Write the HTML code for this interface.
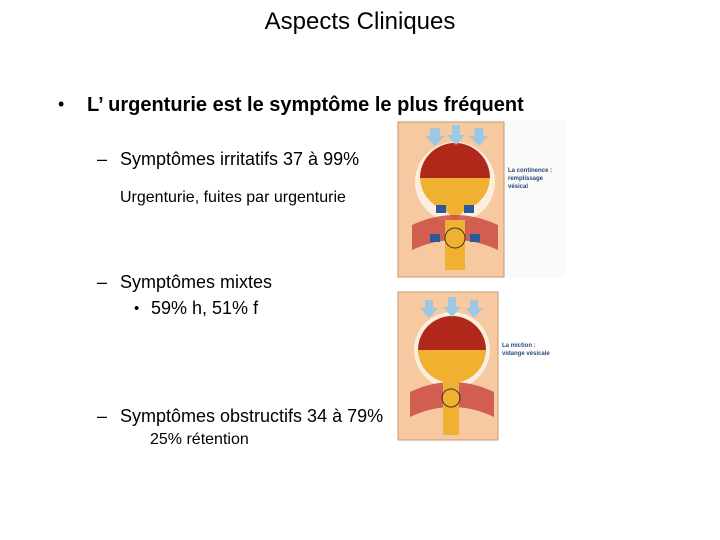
<!DOCTYPE html>
<html><head><meta charset="utf-8"><style>
body{margin:0;width:720px;height:540px;background:#fff;position:relative;font-family:"Liberation Sans",sans-serif;color:#000;overflow:hidden}
.t{position:absolute;white-space:nowrap}
</style></head><body>
<div class="t" style="left:0;width:720px;text-align:center;top:8px;font-size:24px">Aspects Cliniques</div>
<div class="t" style="left:58px;top:94px;font-size:18px">•</div>
<div class="t" style="left:87px;top:94px;font-size:20px;font-weight:bold">L’ urgenturie est le symptôme le plus fréquent</div>
<div class="t" style="left:97px;top:149px;font-size:18px">–</div>
<div class="t" style="left:120px;top:149px;font-size:18px">Symptômes irritatifs 37 à 99%</div>
<div class="t" style="left:120px;top:189px;font-size:16px">Urgenturie, fuites par urgenturie</div>
<div class="t" style="left:97px;top:272px;font-size:18px">–</div>
<div class="t" style="left:120px;top:272px;font-size:18px">Symptômes mixtes</div>
<div class="t" style="left:134px;top:300px;font-size:15px">•</div>
<div class="t" style="left:151px;top:298px;font-size:18px">59% h, 51% f</div>
<div class="t" style="left:97px;top:406px;font-size:18px">–</div>
<div class="t" style="left:120px;top:406px;font-size:18px">Symptômes obstructifs 34 à 79%</div>
<div class="t" style="left:150px;top:431px;font-size:16px">25% rétention</div>

<svg style="position:absolute;left:0;top:0" width="720" height="540">
<rect x="396" y="120" width="169" height="158" fill="#fafafa"/>
<rect x="398" y="122" width="106" height="155" fill="#f6c9a0" stroke="#c89a70"/>
<circle cx="455" cy="182" r="40" fill="#fbeede"/>
<path d="M420 178 a35 35 0 0 1 70 0 z" fill="#b0281a"/>
<path d="M420 178 h70 a35 35 0 0 1 -25 32 l-10 10 l-10 -10 a35 35 0 0 1 -25 -32 z" fill="#f0b030"/>
<path d="M412 225 q43 -20 86 0 v25 q-43 -20 -86 0z" fill="#c8443c" opacity=".8"/>
<rect x="445" y="220" width="20" height="50" fill="#f0b030"/>
<circle cx="455" cy="238" r="10" fill="none" stroke="#333"/>
<g fill="#9cc8e4"><path d="M430 128 l10 0 0 8 5 0 -10 10 -10 -10 5 0z"/><path d="M452 125 l8 0 0 10 5 0 -9 10 -9 -10 5 0z"/><path d="M475 128 l8 0 0 8 5 0 -9 10 -10 -10 5 0z"/></g>
<g fill="#2a5a9a"><rect x="436" y="205" width="10" height="8"/><rect x="464" y="205" width="10" height="8"/><rect x="430" y="234" width="10" height="8"/><rect x="470" y="234" width="10" height="8"/></g>
<text x="508" y="172" font-size="6" font-weight="bold" fill="#2a4a7a" font-family="Liberation Sans">La continence :</text>
<text x="508" y="180" font-size="6" font-weight="bold" fill="#2a4a7a" font-family="Liberation Sans">remplissage</text>
<text x="508" y="188" font-size="6" font-weight="bold" fill="#2a4a7a" font-family="Liberation Sans">vésical</text>

<rect x="398" y="292" width="100" height="148" fill="#f6c9a0" stroke="#c89a70"/>
<circle cx="452" cy="350" r="38" fill="#fbeede"/>
<path d="M418 350 a34 34 0 0 1 68 0 z" fill="#b0281a"/>
<path d="M418 350 h68 a34 34 0 0 1 -26 32 l-16 0 a34 34 0 0 1 -26 -32z" fill="#f0b030"/>
<path d="M410 392 q42 -20 84 0 v25 q-42 -20 -84 0z" fill="#c8443c" opacity=".8"/>
<rect x="443" y="380" width="16" height="55" fill="#f0b030"/>
<circle cx="451" cy="398" r="9" fill="none" stroke="#333"/>
<g fill="#9cc8e4"><path d="M425 300 l8 0 0 8 5 0 -9 10 -9 -10 5 0z"/><path d="M448 297 l8 0 0 10 5 0 -9 10 -9 -10 5 0z"/><path d="M470 300 l8 0 0 8 5 0 -9 10 -9 -10 5 0z"/></g>
<text x="502" y="347" font-size="6" font-weight="bold" fill="#2a4a7a" font-family="Liberation Sans">La miction :</text>
<text x="502" y="355" font-size="6" font-weight="bold" fill="#2a4a7a" font-family="Liberation Sans">vidange vésicale</text>
</svg>
</body></html>
